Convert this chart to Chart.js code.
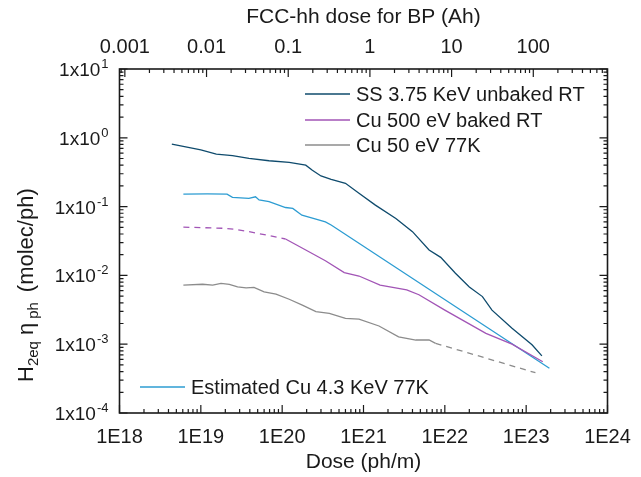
<!DOCTYPE html>
<html lang="en">
<head>
<meta charset="UTF-8">
<title>PSD yield vs dose</title>
<script src="https://cdn.jsdelivr.net/npm/chart.js"></script>
<style>
    html, body { margin: 0; padding: 0; background: #fff; }
    #wrap { width: 641px; height: 477px; }
</style>
</head>
<body>
<div id="wrap"><canvas id="yieldChart" width="641" height="477"></canvas></div>
<script>
    // dose on the bottom axis (ph/m), yield on the left axis (molec/ph)
    const ssDose  = [4.4e18, 1.0e19, 1.55e19, 2.45e19, 3.9e19, 6.9e19, 1.22e20, 1.95e20, 2.35e20, 3.0e20, 4.0e20, 6.0e20, 8.8e20, 1.4e21, 2.5e21, 4.0e21, 6.4e21, 8.9e21, 1.35e22, 2.0e22, 2.9e22, 3.8e22, 6.7e22, 1.18e23, 1.56e23];
    const ssYield = [0.811, 0.666, 0.580, 0.551, 0.502, 0.464, 0.439, 0.4005, 0.337, 0.279, 0.249, 0.218, 0.156, 0.105, 0.0673, 0.0432, 0.0234, 0.0183, 0.01075, 0.0068, 0.00492, 0.00313, 0.0017, 0.00098, 0.000675];

    const cuRtDose  = [6.1e18, 1.1e19, 2.0e19, 2.7e19, 3.9e19, 6.3e19, 1.1e20, 1.95e20, 3.4e20, 5.8e20, 8.8e20, 1.6e21, 3.4e21, 4.8e21, 1.0e22, 3.2e22, 6.7e22, 1.6e23];
    const cuRtYield = [0.0503, 0.0493, 0.0483, 0.0467, 0.0432, 0.0387, 0.0338, 0.0234, 0.0163, 0.011, 0.0098, 0.00722, 0.00617, 0.00523, 0.00313, 0.00144, 0.0010, 0.000556];

    const cu77Dose  = [6.1e18, 1.05e19, 1.4e19, 1.77e19, 2.24e19, 2.83e19, 3.6e19, 4.5e19, 6.0e19, 8.4e19, 1.22e20, 1.77e20, 2.6e20, 3.8e20, 6.0e20, 8.8e20, 1.55e21, 2.7e21, 4.4e21, 6.4e21, 7.7e21, 1.3e23];
    const cu77Yield = [0.00722, 0.00743, 0.00722, 0.00764, 0.00743, 0.0068, 0.00659, 0.0067, 0.00576, 0.00534, 0.0045, 0.0037, 0.00297, 0.00281, 0.00238, 0.00232, 0.00184, 0.00128, 0.00115, 0.00115, 0.00103, 0.000385];

    const estDose  = [6.1e18, 1.2e19, 2.1e19, 2.45e19, 3.9e19, 4.7e19, 5.2e19, 6.9e19, 1.1e20, 1.35e20, 1.75e20, 2.6e20, 3.4e20, 4.0e20, 1.93e23];
    const estYield = [0.152, 0.153, 0.152, 0.136, 0.132, 0.139, 0.125, 0.118, 0.097, 0.094, 0.075, 0.066, 0.060, 0.054, 0.000446];

    const seriesLabels = ['SS 3.75 KeV unbaked RT', 'Cu 500 eV baked RT', 'Cu 50 eV 77K', 'Estimated Cu 4.3 KeV 77K'];

    // tick labels
    const doseTicks = [1e18, 1e19, 1e20, 1e21, 1e22, 1e23, 1e24];
    const doseTickLabels = ['1E18', '1E19', '1E20', '1E21', '1E22', '1E23', '1E24'];
    const fccTicks = [0.001, 0.01, 0.1, 1, 10, 100];
    const fccTickLabels = ['0.001', '0.01', '0.1', '1', '10', '100'];
    const yieldTicks = [1e-4, 1e-3, 1e-2, 1e-1, 1, 10];
    const yieldExponents = ['-4', '-3', '-2', '-1', '0', '1'];

    const cuRtDashedUntil = 6;   // low-dose part of the Cu 500 eV curve is dashed
    const cu77DashedFrom = 20;   // high-dose extrapolation of the Cu 50 eV curve is dashed

    const FONT = "'Liberation Sans', Arial, sans-serif";
    const INK = '#1a1a1a';
    const colors = ['#0f4b6d', '#a255b6', '#8c8c8c', '#2c9cd2'];

    function points(xs, ys) {
        return xs.map((x, i) => ({ x: x, y: ys[i] }));
    }

    function logMarks(scale) {
        const out = [];
        const lo = Math.floor(Math.log10(scale.min));
        const hi = Math.ceil(Math.log10(scale.max));
        for (let e = lo; e <= hi; e++) {
            for (let k = 1; k <= 9; k++) {
                const v = k * Math.pow(10, e);
                if (v >= scale.min * 0.9999 && v <= scale.max * 1.0001) out.push([v, k === 1]);
            }
        }
        return out;
    }

    function setTicks(values) {
        return scale => { scale.ticks = values.map(v => ({ value: v })); };
    }

    // frame, inward ticks, y labels, y title and the two legends
    const framePlugin = {
        id: 'frame',
        afterDatasetsDraw(chart) {
            const { ctx, chartArea: a, scales } = chart;
            ctx.save();
            ctx.strokeStyle = INK;
            ctx.lineWidth = 1.6;
            ctx.strokeRect(a.left, a.top, a.right - a.left, a.bottom - a.top);

            ctx.lineWidth = 1.2;
            ctx.beginPath();
            logMarks(scales.x).forEach(([v, major]) => {
                const px = scales.x.getPixelForValue(v);
                ctx.moveTo(px, a.bottom);
                ctx.lineTo(px, a.bottom - (major ? 8 : 4));
            });
            logMarks(scales.x2).forEach(([v, major]) => {
                const px = scales.x2.getPixelForValue(v);
                ctx.moveTo(px, a.top);
                ctx.lineTo(px, a.top + (major ? 8 : 4));
            });
            logMarks(scales.y).forEach(([v, major]) => {
                const py = scales.y.getPixelForValue(v);
                const l = major ? 8 : 4;
                ctx.moveTo(a.left, py);
                ctx.lineTo(a.left + l, py);
                ctx.moveTo(a.right, py);
                ctx.lineTo(a.right - l, py);
            });
            ctx.stroke();

            // y tick labels 1x10^n
            ctx.fillStyle = INK;
            ctx.textBaseline = 'alphabetic';
            yieldTicks.forEach((v, i) => {
                const py = scales.y.getPixelForValue(v);
                const right = a.left - 11;
                ctx.font = '13px ' + FONT;
                const supW = ctx.measureText(yieldExponents[i]).width;
                ctx.textAlign = 'left';
                ctx.fillText(yieldExponents[i], right - supW, py - 1);
                ctx.font = '19px ' + FONT;
                ctx.textAlign = 'right';
                ctx.fillText('1x10', right - supW - 1, py + 7);
            });

            // y title with subscripts, written bottom to top
            const pieces = [['H', 22, 0, 0], ['2eq', 15, 5, 6], ['\u03b7', 22, 0, 4], ['ph', 15, 5, 10], ['(molec/ph)', 22, 0, 0]];
            ctx.save();
            ctx.translate(33, 382);
            ctx.rotate(-Math.PI / 2);
            ctx.textAlign = 'left';
            let x = 0;
            pieces.forEach(p => {
                ctx.font = p[1] + 'px ' + FONT;
                ctx.fillText(p[0], x, p[2]);
                x += ctx.measureText(p[0]).width + p[3];
            });
            ctx.restore();

            // legends
            const rows = [[0, 305, 94], [1, 305, 120], [2, 305, 145], [3, 140, 387]];
            ctx.font = '20px ' + FONT;
            ctx.textBaseline = 'middle';
            ctx.textAlign = 'left';
            rows.forEach(([i, lx, ly]) => {
                const ds = chart.data.datasets[i];
                ctx.strokeStyle = ds.borderColor;
                ctx.lineWidth = 1.3;
                ctx.beginPath();
                ctx.moveTo(lx, ly);
                ctx.lineTo(lx + 45, ly);
                ctx.stroke();
                ctx.fillStyle = INK;
                ctx.fillText(ds.label, lx + 51, ly + 1);
            });
            ctx.restore();
        }
    };

    function renderChart() {
        const ctx = document.getElementById('yieldChart').getContext('2d');
        new Chart(ctx, {
            type: 'line',
            data: {
                datasets: [{
                    label: seriesLabels[0],
                    data: points(ssDose, ssYield),
                    borderColor: colors[0]
                }, {
                    label: seriesLabels[1],
                    data: points(cuRtDose, cuRtYield),
                    borderColor: colors[1],
                    segment: { borderDash: c => c.p1DataIndex <= cuRtDashedUntil ? [6, 5] : undefined }
                }, {
                    label: seriesLabels[2],
                    data: points(cu77Dose, cu77Yield),
                    borderColor: colors[2],
                    segment: { borderDash: c => c.p0DataIndex >= cu77DashedFrom ? [6, 5] : undefined }
                }, {
                    label: seriesLabels[3],
                    data: points(estDose, estYield),
                    borderColor: colors[3]
                }]
            },
            options: {
                responsive: false,
                devicePixelRatio: 1,
                animation: false,
                layout: { padding: { right: 33.5 } },
                elements: {
                    line: { borderWidth: 1.3, tension: 0, fill: false },
                    point: { radius: 0 }
                },
                plugins: {
                    legend: { display: false },
                    tooltip: { enabled: false }
                },
                scales: {
                    x: {
                        type: 'logarithmic',
                        position: 'bottom',
                        min: 1e18,
                        max: 1e24,
                        afterBuildTicks: setTicks(doseTicks),
                        afterFit: s => { s.height = 64; },
                        grid: { display: false },
                        border: { display: false },
                        ticks: {
                            autoSkip: false,
                            maxRotation: 0,
                            padding: 4,
                            color: INK,
                            font: { family: FONT, size: 20 },
                            callback: (v, i) => doseTickLabels[i]
                        },
                        title: {
                            display: true,
                            text: 'Dose (ph/m)',
                            color: INK,
                            font: { family: FONT, size: 21 },
                            padding: { top: 0, bottom: 2 }
                        }
                    },
                    x2: {
                        type: 'logarithmic',
                        position: 'top',
                        min: 0.00086,
                        max: 810,
                        afterBuildTicks: setTicks(fccTicks),
                        afterFit: s => { s.height = 69; },
                        grid: { display: false },
                        border: { display: false },
                        ticks: {
                            autoSkip: false,
                            maxRotation: 0,
                            padding: 2,
                            color: INK,
                            font: { family: FONT, size: 20 },
                            callback: (v, i) => fccTickLabels[i]
                        },
                        title: {
                            display: true,
                            text: 'FCC-hh dose for BP (Ah)',
                            color: INK,
                            font: { family: FONT, size: 21 },
                            padding: { top: 5, bottom: 0 }
                        }
                    },
                    y: {
                        type: 'logarithmic',
                        position: 'left',
                        min: 1e-4,
                        max: 10,
                        afterFit: s => { s.width = 119.5; },
                        grid: { display: false },
                        border: { display: false },
                        ticks: { display: false }
                    }
                }
            },
            plugins: [framePlugin]
        });
    }

    window.onload = renderChart;
</script>
</body>
</html>
